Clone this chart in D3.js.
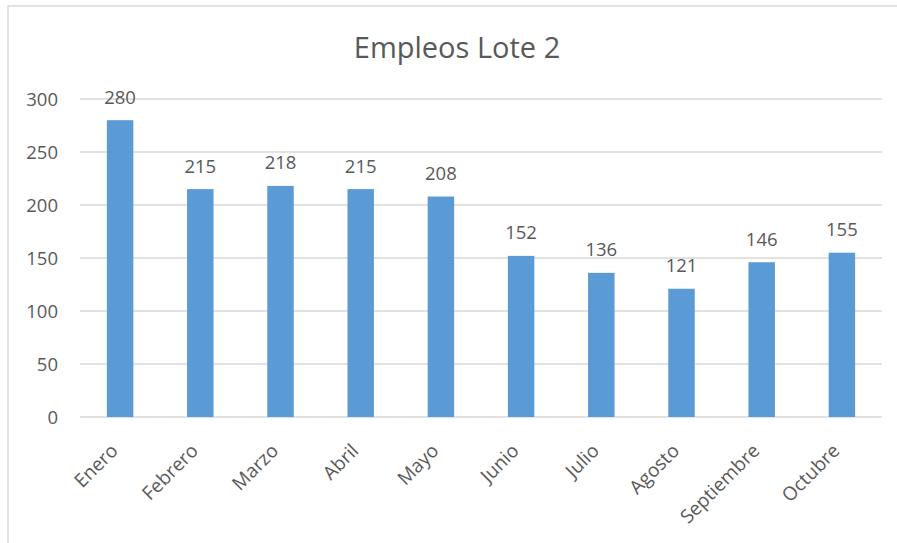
<!DOCTYPE html>
<html><head><meta charset="utf-8">
<script src="https://cdn.jsdelivr.net/npm/d3@7"></script>
<style>body{margin:0;background:#fff}svg{display:block}text{font-family:"Open Sans",sans-serif;fill:#595959}</style>
</head><body><svg id="c" width="897" height="543"></svg>
<script>
const categories = ["Enero","Febrero","Marzo","Abril","Mayo","Junio","Julio","Agosto","Septiembre","Octubre"];
const values = [280,215,218,215,208,152,136,121,146,155];
const yTicks = [0,50,100,150,200,250,300];
const title = "Empleos Lote 2";

const svg = d3.select("#c");
svg.append("rect").attr("x",8).attr("y",6).attr("width",900).attr("height",560)
  .attr("fill","#fff").attr("stroke","#d9d9d9").attr("stroke-width",1.5);

const m = {l:80, r:882, t:99, b:417};
const x = d3.scaleBand().domain(categories).range([m.l, m.r]).paddingInner(0.67).paddingOuter(0.335);
const y = d3.scaleLinear().domain([0,300]).range([m.b, m.t]);

svg.append("g").selectAll("line").data(yTicks).join("line")
  .attr("x1",m.l).attr("x2",m.r).attr("y1",d=>y(d)).attr("y2",d=>y(d))
  .attr("stroke","#d9d9d9").attr("stroke-width",1.5);

const yAxis = d3.axisLeft(y).tickValues(yTicks).tickSize(0).tickPadding(0);
const gy = svg.append("g").attr("transform",`translate(58,0)`).call(yAxis);
gy.select(".domain").remove();
gy.selectAll("text").attr("font-size",18.5).attr("font-family","Open Sans").attr("fill","#595959").attr("dy","0.35em");

svg.append("g").selectAll("rect").data(values).join("rect")
  .attr("x",(d,i)=>x(categories[i])).attr("width",x.bandwidth())
  .attr("y",d=>y(d)).attr("height",d=>y(0)-y(d)).attr("fill","#5b9bd5");

svg.append("g").selectAll("text").data(values).join("text")
  .attr("x",(d,i)=>x(categories[i])+x.bandwidth()/2).attr("y",d=>y(d)-16.5)
  .attr("text-anchor","middle").attr("font-size",18.5).text(d=>d);

const xAxis = d3.axisBottom(x).tickSize(0).tickPadding(0);
const gx = svg.append("g").attr("transform",`translate(0,${m.b})`).call(xAxis);
gx.select(".domain").remove();
gx.selectAll("text").attr("font-size",19).attr("font-family","Open Sans").attr("fill","#595959")
  .attr("text-anchor","end").attr("dy",null).attr("y",0)
  .attr("transform","translate(-1,35) rotate(-45)");

svg.append("text").attr("x",457).attr("y",58).attr("text-anchor","middle")
  .attr("font-size",29).text(title);
</script></body></html>
